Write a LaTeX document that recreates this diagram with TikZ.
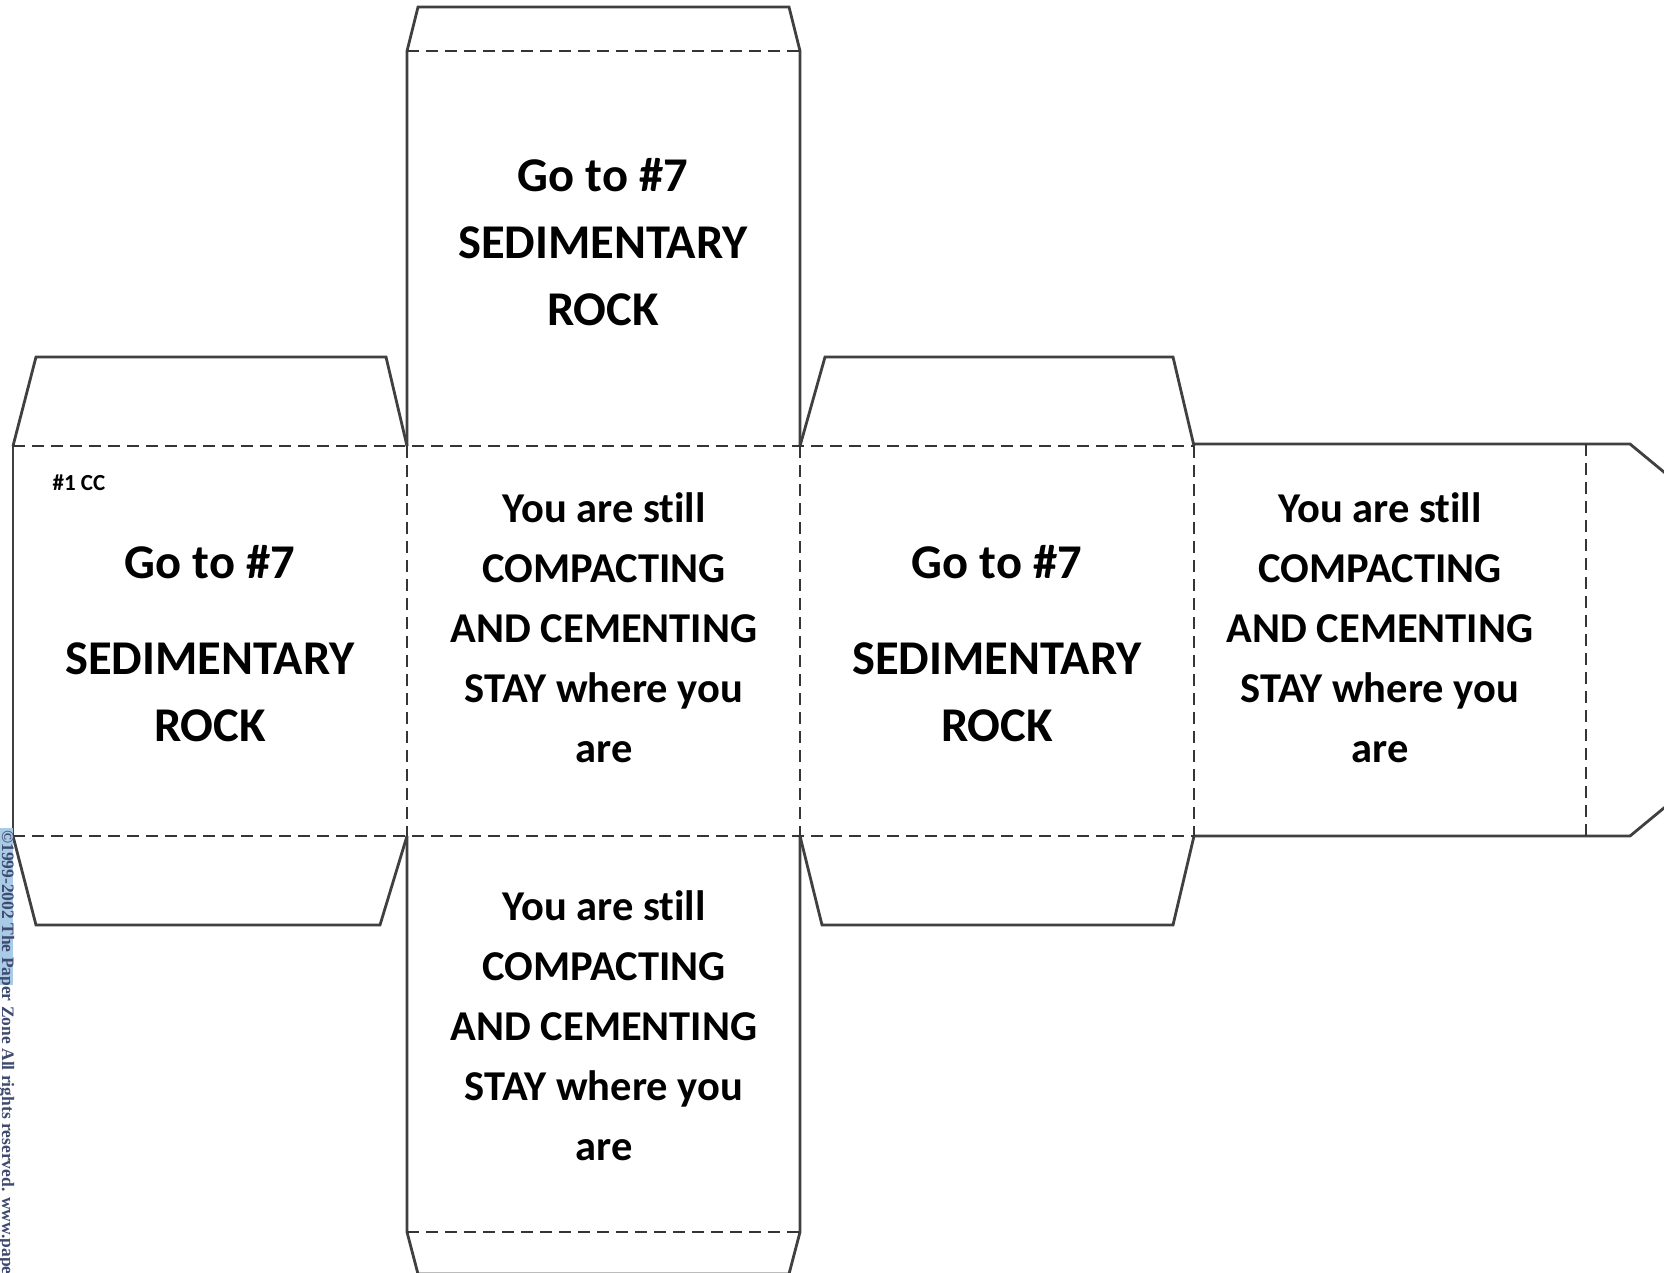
\documentclass[tikz,border=0pt]{standalone}
\usepackage{fontspec}
\setmainfont{Carlito}[Ligatures={NoCommon}]
\newfontfamily\cpyfont{Liberation Serif}
\definecolor{cutline}{HTML}{404040}
\definecolor{foldline}{HTML}{353535}
\definecolor{hilite}{HTML}{A9CBE6}
\definecolor{cpytext}{HTML}{3E4A70}
\tikzset{
  cut/.style={draw=cutline, line width=2.8pt, line join=miter},
  fold/.style={draw=foldline, line width=2.2pt, dash pattern=on 12pt off 7pt},
  bigtxt/.style={font=\bfseries\fontsize{48.5}{67}\selectfont, align=center, inner sep=0pt},
  midtxt/.style={font=\bfseries\fontsize{42.5}{60}\selectfont, align=center, inner sep=0pt},
}
\begin{document}
\begin{tikzpicture}[x=1pt,y=-1pt]
\useasboundingbox (0,0) rectangle (1664,1272);
\fill[white] (0,0) rectangle (1664,1272);

% cut lines
\draw[cut] (13,446)--(36,357)--(386,357)--(407,446);
\draw[cut] (13,446)--(13,836);
\draw[cut] (13,836)--(36,925)--(380,925)--(407,836);
\draw[cut] (407,446)--(407,51)--(418,7)--(789,7)--(800,51)--(800,446);
\draw[cut] (407,836)--(407,1232)--(418,1274)--(789,1274)--(800,1232)--(800,836);
\draw[cut] (800,446)--(825,357)--(1173,357)--(1194,446);
\draw[cut] (800,836)--(822,925)--(1173,925)--(1194,836);
\draw[cut] (1194,444)--(1630,444)--(1676,482);
\draw[cut] (1194,836)--(1630,836)--(1676,798);

% fold lines
\draw[fold] (13,446)--(1194,446);
\draw[fold] (13,836)--(1194,836);
\draw[fold] (407,51)--(800,51);
\draw[fold] (407,1232)--(800,1232);
\draw[fold] (407,446)--(407,836);
\draw[fold] (800,446)--(800,836);
\draw[fold] (1194,446)--(1194,836);
\draw[fold] (1586,444)--(1586,836);

% texts
\node[bigtxt] (topface) at (603,242) {Go to \#7\\SEDIMENTARY\\ROCK};

\node[font=\bfseries\fontsize{23}{26}\selectfont, inner sep=0pt] (label) at (79,483) {\#1 CC};
\node[bigtxt] (lgo) at (210,562) {Go to \#7};
\node[bigtxt] (lrock) at (210,692) {SEDIMENTARY\\ROCK};

\node[midtxt] (midface) at (604,628) {You are still\\COMPACTING\\AND CEMENTING\\STAY where you\\are};

\node[bigtxt] (rgo) at (997,562) {Go to \#7};
\node[bigtxt] (rrock) at (997,692) {SEDIMENTARY\\ROCK};

\node[midtxt] (farface) at (1380,628) {You are still\\COMPACTING\\AND CEMENTING\\STAY where you\\are};

\node[midtxt] (botface) at (604,1026) {You are still\\COMPACTING\\AND CEMENTING\\STAY where you\\are};

% copyright strip
\fill[hilite] (0,828) rectangle (13,985);
\node[rotate=-90, anchor=south west, inner sep=0pt, text=cpytext,
      font=\cpyfont\bfseries\fontsize{17.5}{17.5}\selectfont] (cpy) at (-2,830)
  {©1999-2002 The Paper Zone All rights reserved. www.paperzone.com};
\end{tikzpicture}
\end{document}
